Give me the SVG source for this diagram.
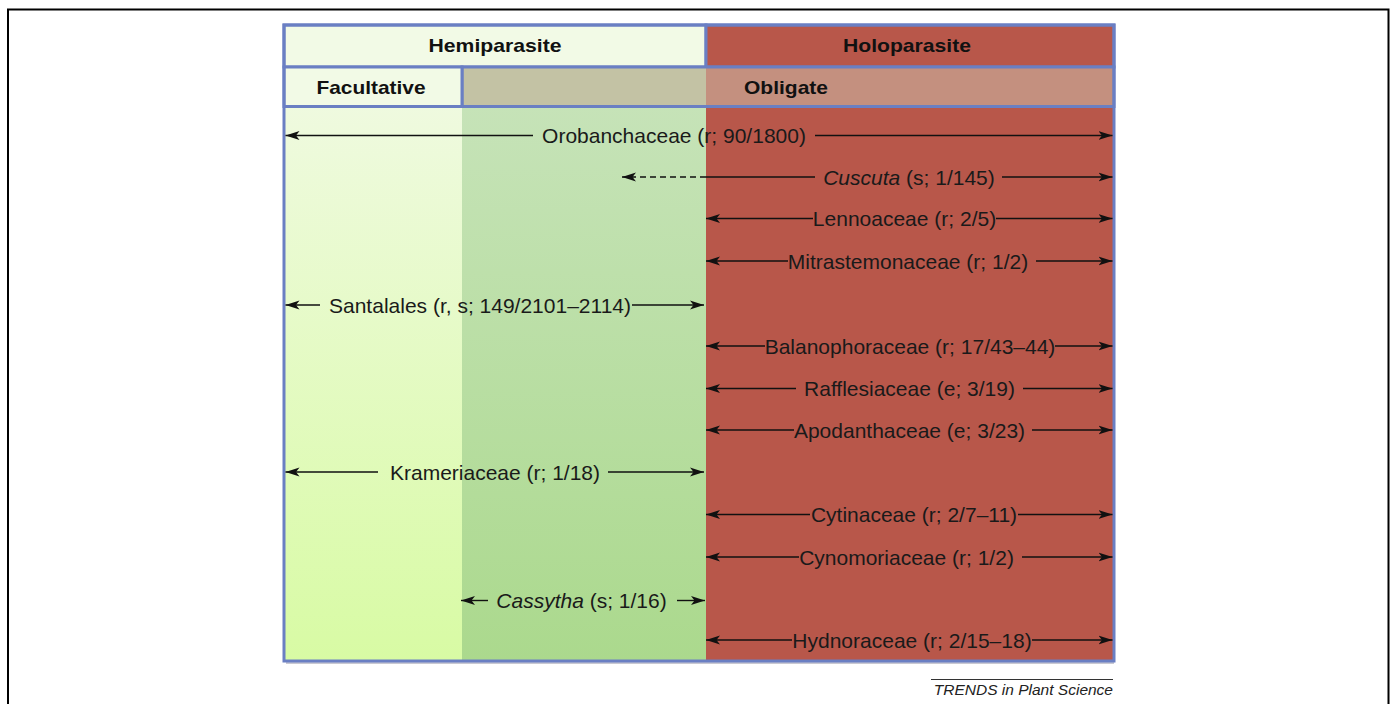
<svg xmlns="http://www.w3.org/2000/svg" width="1392" height="704" viewBox="0 0 1392 704">
<defs>
<style>
.t{font-family:"Liberation Sans",Arial,sans-serif;font-size:21px;fill:#1a1a1a;text-anchor:middle}
.h{font-family:"Liberation Sans",Arial,sans-serif;font-size:18.5px;font-weight:bold;fill:#111;text-anchor:middle}
.ln{stroke:#111;stroke-width:1.4;fill:none}
.ar{stroke:#111;stroke-width:1.4;fill:none;marker-end:url(#ah)}
.dash{stroke:#111;stroke-width:1.4;fill:none;stroke-dasharray:6 4;marker-end:url(#ah)}
.bd{stroke:#6a7fc3;stroke-width:3}
</style>
<marker id="ah" markerUnits="userSpaceOnUse" markerWidth="15" markerHeight="10" refX="14" refY="5" orient="auto">
<path d="M0,0.5 L14,5 L0,9.5 L3.5,5 Z" fill="#111"/>
</marker>
<linearGradient id="gl" x1="0" y1="0" x2="0" y2="1">
<stop offset="0" stop-color="#effadf"/><stop offset="1" stop-color="#d8fba4"/>
</linearGradient>
<linearGradient id="gm" x1="0" y1="0" x2="0" y2="1">
<stop offset="0" stop-color="#c6e3b8"/><stop offset="1" stop-color="#abd98d"/>
</linearGradient>
</defs>
<rect x="0" y="0" width="1392" height="704" fill="#ffffff"/>
<path d="M8,704 V9.5 H1388.5 V704" fill="none" stroke="#000" stroke-width="2"/>

<g id="body">
<rect x="284" y="106" width="178" height="555" fill="url(#gl)"/>
<rect x="462" y="106" width="244" height="555" fill="url(#gm)"/>
<rect x="706" y="106" width="408" height="555" fill="#b8574a"/>
<line x1="286" y1="663" x2="1114" y2="663" stroke="#c9c9d2" stroke-width="2"/>
</g>

<g id="hemiparasite">
<rect x="284" y="25" width="422" height="42" fill="#f2fae6" class="bd"/>
<text class="h" x="495" y="52" textLength="133" lengthAdjust="spacingAndGlyphs">Hemiparasite</text>
</g>
<g id="holoparasite">
<rect x="706" y="25" width="408" height="42" fill="#b8574a" class="bd"/>
<text class="h" x="907" y="52" textLength="128" lengthAdjust="spacingAndGlyphs">Holoparasite</text>
</g>
<g id="obligate">
<rect x="462" y="67" width="244" height="39.5" fill="#c3c2a4"/>
<rect x="706" y="67" width="408" height="39.5" fill="#c4907f"/>
<rect x="462" y="67" width="652" height="39.5" fill="none" class="bd"/>
<text class="h" x="786" y="93.5" textLength="84" lengthAdjust="spacingAndGlyphs">Obligate</text>
</g>
<g id="facultative">
<rect x="284" y="67" width="178" height="39.5" fill="#f2fae6" class="bd"/>
<text class="h" x="371" y="93.5" textLength="109" lengthAdjust="spacingAndGlyphs">Facultative</text>
</g>
<g id="frame">
<rect x="284" y="25" width="830" height="636" fill="none" class="bd"/>
</g>

<g id="connectors">
<!-- Orobanchaceae -->
<path class="ar" d="M533,135.5 H285.5"/><path class="ar" d="M815,135.5 H1112.5"/>
<!-- Cuscuta -->
<path class="ln" d="M815,177 H706"/><path class="dash" d="M706,177 H622"/><path class="ar" d="M1002,177 H1112.5"/>
<!-- Lennoaceae -->
<path class="ar" d="M813,218.5 H706"/><path class="ar" d="M996,218.5 H1112.5"/>
<!-- Mitrastemonaceae -->
<path class="ar" d="M788,261 H706"/><path class="ar" d="M1036,261 H1112.5"/>
<!-- Santalales -->
<path class="ar" d="M320,305 H285.5"/><path class="ar" d="M632,305 H704"/>
<!-- Balanophoraceae -->
<path class="ar" d="M765,346 H706"/><path class="ar" d="M1055,346 H1112.5"/>
<!-- Rafflesiaceae -->
<path class="ar" d="M796,388.5 H706"/><path class="ar" d="M1023,388.5 H1112.5"/>
<!-- Apodanthaceae -->
<path class="ar" d="M794,430 H706"/><path class="ar" d="M1032,430 H1112.5"/>
<!-- Krameriaceae -->
<path class="ar" d="M378,472 H285.5"/><path class="ar" d="M608,472 H704"/>
<!-- Cytinaceae -->
<path class="ar" d="M810,514.5 H706"/><path class="ar" d="M1018,514.5 H1112.5"/>
<!-- Cynomoriaceae -->
<path class="ar" d="M799,557 H706"/><path class="ar" d="M1022,557 H1112.5"/>
<!-- Cassytha -->
<path class="ar" d="M488,600.5 H461"/><path class="ar" d="M677,600.5 H705"/>
<!-- Hydnoraceae -->
<path class="ar" d="M792,640 H706"/><path class="ar" d="M1032,640 H1112.5"/>
</g>

<g id="orobanchaceae"><text class="t" x="674" y="143">Orobanchaceae (r; 90/1800)</text></g>
<g id="cuscuta"><text class="t" x="909" y="184.5"><tspan font-style="italic">Cuscuta</tspan> (s; 1/145)</text></g>
<g id="lennoaceae"><text class="t" x="904.5" y="226">Lennoaceae (r; 2/5)</text></g>
<g id="mitrastemonaceae"><text class="t" x="908" y="268.5">Mitrastemonaceae (r; 1/2)</text></g>
<g id="santalales"><text class="t" x="480" y="312.5">Santalales (r, s; 149/2101–2114)</text></g>
<g id="balanophoraceae"><text class="t" x="910" y="353.5">Balanophoraceae (r; 17/43–44)</text></g>
<g id="rafflesiaceae"><text class="t" x="909.5" y="396">Rafflesiaceae (e; 3/19)</text></g>
<g id="apodanthaceae"><text class="t" x="909.5" y="437.5">Apodanthaceae (e; 3/23)</text></g>
<g id="krameriaceae"><text class="t" x="495" y="479.5">Krameriaceae (r; 1/18)</text></g>
<g id="cytinaceae"><text class="t" x="914" y="522">Cytinaceae (r; 2/7–11)</text></g>
<g id="cynomoriaceae"><text class="t" x="906.5" y="564.5">Cynomoriaceae (r; 1/2)</text></g>
<g id="cassytha"><text class="t" x="581.5" y="608"><tspan font-style="italic">Cassytha</tspan> (s; 1/16)</text></g>
<g id="hydnoraceae"><text class="t" x="912" y="647.5">Hydnoraceae (r; 2/15–18)</text></g>

<g id="credit">
<line x1="931" y1="679.5" x2="1113" y2="679.5" stroke="#333" stroke-width="1"/>
<text x="1113" y="695" font-family="'Liberation Sans',Arial,sans-serif" font-size="15.5" font-style="italic" fill="#222" text-anchor="end">TRENDS in Plant Science</text>
</g>
</svg>
